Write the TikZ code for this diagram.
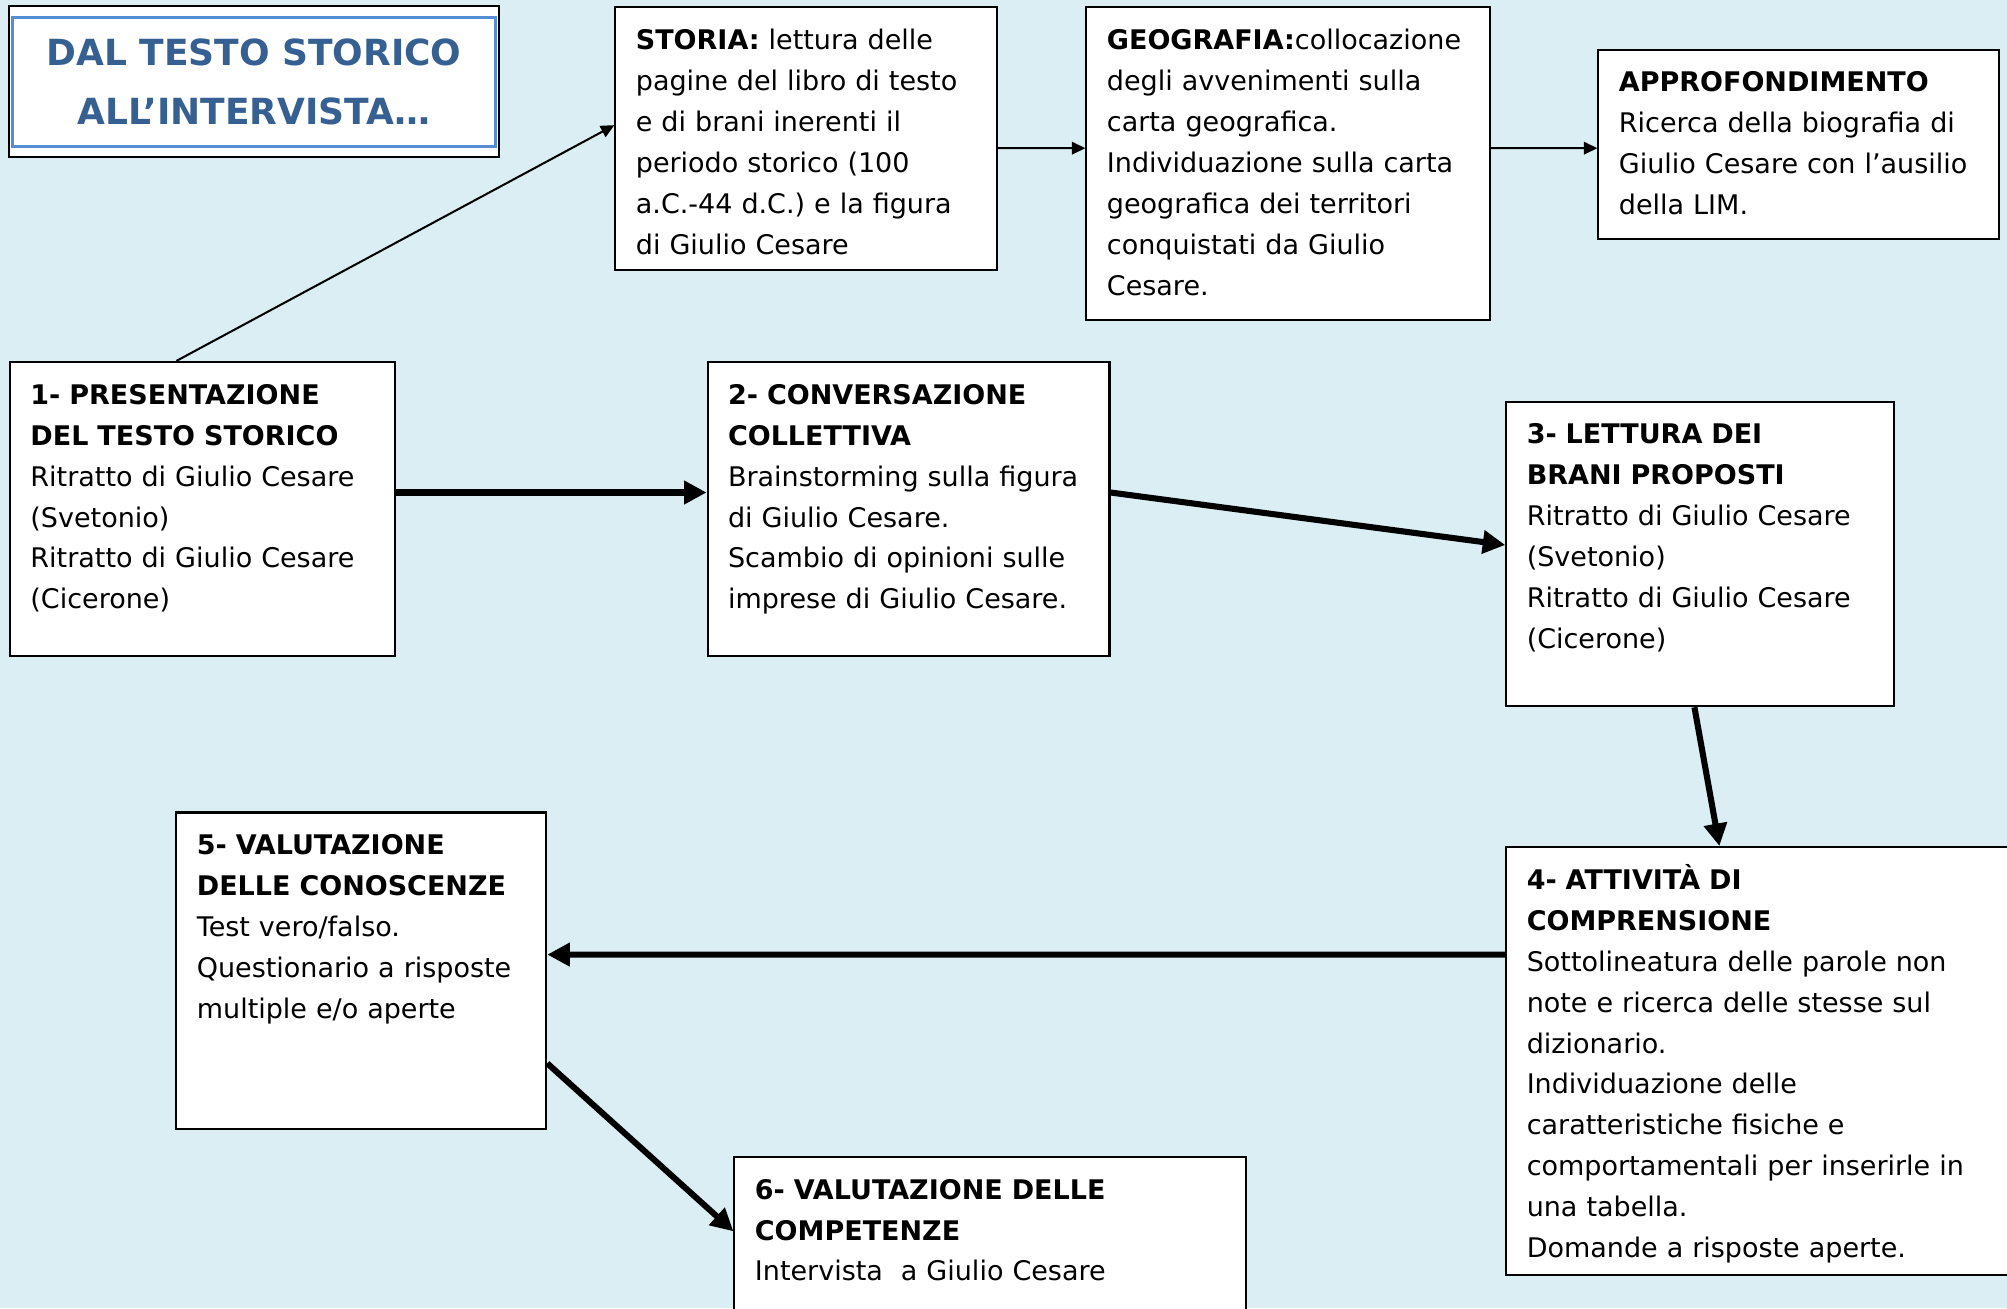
\documentclass[tikz,border=0pt]{standalone}
\usepackage{fontspec}
\setmainfont{DejaVu Sans}
\usetikzlibrary{arrows.meta,positioning}
\definecolor{sfondo}{HTML}{DAEEF3}
\definecolor{titoloblu}{HTML}{366092}
\definecolor{bordoblu}{HTML}{558ED5}

\begin{document}
\begin{tikzpicture}[
		passo/.style={draw, line width=0.9pt, fill=white, anchor=north west, align=left, inner xsep=0.32cm, inner ysep=0pt, text height=0.66cm, font=\fontsize{12}{18.2}\selectfont},
		freccina/.style={-{Triangle[length=6pt,width=5.5pt]}, line width=0.9pt},
		freccia/.style={-{Triangle[length=10pt,width=10pt]}, line width=2.7pt}]
			\useasboundingbox (0,0) rectangle (31.36,20.44);
			\fill[sfondo] (0,0) rectangle (31.36,20.44);
			\clip (0,0) rectangle (31.36,20.44);
			
			\node[draw, line width=0.9pt, fill=white, minimum width=7.66cm, minimum height=2.36cm] (cornice) at (3.97,19.16) {};
			\node[draw=bordoblu, line width=1.3pt, minimum width=7.55cm, minimum height=2.02cm, align=center, text=titoloblu, font=\fontsize{16}{26.6}\selectfont\bfseries] (titolo) at (cornice.center) {DAL TESTO STORICO\\ALL’INTERVISTA…};
			
			\node[passo, text width=5.32cm, text depth=3.44cm] (storia) at (9.60,20.34) {\textbf{STORIA:} lettura delle\\pagine del libro di testo\\e di brani inerenti il\\periodo storico (100\\a.C.-44 d.C.) e la figura\\di Giulio Cesare};
			\node[passo, text width=5.66cm, text depth=4.22cm] (geo) at (16.96,20.34) {\textbf{GEOGRAFIA:}collocazione\\degli avvenimenti sulla\\carta geografica.\\Individuazione sulla carta\\geografica dei territori\\conquistati da Giulio\\Cesare.};
			\node[passo, text width=5.62cm, text depth=2.30cm] (appro) at (24.96,19.68) {\textbf{APPROFONDIMENTO}\\Ricerca della biografia di\\Giulio Cesare con l’ausilio\\della LIM.};
			
			\node[passo, text width=5.38cm, text depth=3.94cm] (pres) at (0.14,14.80) {\textbf{1- PRESENTAZIONE}\\\textbf{DEL TESTO STORICO}\\Ritratto di Giulio Cesare\\(Svetonio)\\Ritratto di Giulio Cesare\\(Cicerone)};
			\node[passo, text width=5.64cm, text depth=3.94cm] (conv) at (11.04,14.80) {\textbf{2- CONVERSAZIONE}\\\textbf{COLLETTIVA}\\Brainstorming sulla figura\\di Giulio Cesare.\\Scambio di opinioni sulle\\imprese di Giulio Cesare.};
			\node[passo, text width=5.42cm, text depth=4.10cm] (lett) at (23.52,14.18) {\textbf{3- LETTURA DEI}\\\textbf{BRANI PROPOSTI}\\Ritratto di Giulio Cesare\\(Svetonio)\\Ritratto di Giulio Cesare\\(Cicerone)};
			\node[passo, text width=7.22cm, text depth=6.02cm] (comp) at (23.52,7.22) {\textbf{4- ATTIVITÀ DI}\\\textbf{COMPRENSIONE}\\Sottolineatura delle parole non\\note e ricerca delle stesse sul\\dizionario.\\Individuazione delle\\caratteristiche fisiche e\\comportamentali per inserirle in\\una tabella.\\Domande a risposte aperte.};
			\node[passo, text width=5.14cm, text depth=4.28cm] (valc) at (2.74,7.76) {\textbf{5- VALUTAZIONE}\\\textbf{DELLE CONOSCENZE}\\Test vero/falso.\\\mbox{Questionario a risposte}\\multiple e/o aperte};
			\node[passo, text width=7.36cm, text depth=2.08cm] (valk) at (11.46,2.38) {\textbf{6- VALUTAZIONE DELLE}\\\textbf{COMPETENZE}\\Intervista\ \ a Giulio Cesare};
			
			\draw[freccina] ([xshift=-0.41cm]pres.north) -- ([yshift=0.21cm]storia.west);
			\draw[freccina] ([yshift=-0.15cm]storia.east) -- ([yshift=0.24cm]geo.west);
			\draw[freccina] ([yshift=0.24cm]geo.east) -- ([yshift=-0.06cm]appro.west);
			\draw[freccia] ([yshift=0.26cm]pres.east) -- ([yshift=0.26cm]conv.west);
			\draw[freccia] ([yshift=0.26cm]conv.east) -- ([yshift=0.14cm]lett.west);
			\draw[freccia] ([xshift=-0.09cm]lett.south) -- ([xshift=-0.60cm]comp.north);
			\draw[freccia] ([yshift=1.66cm]comp.west) -- ([yshift=0.25cm]valc.east);
			\draw[freccia] ([yshift=-1.45cm]valc.east) -- ([yshift=-1.18cm]valk.north west);
		\end{tikzpicture}
\end{document}
